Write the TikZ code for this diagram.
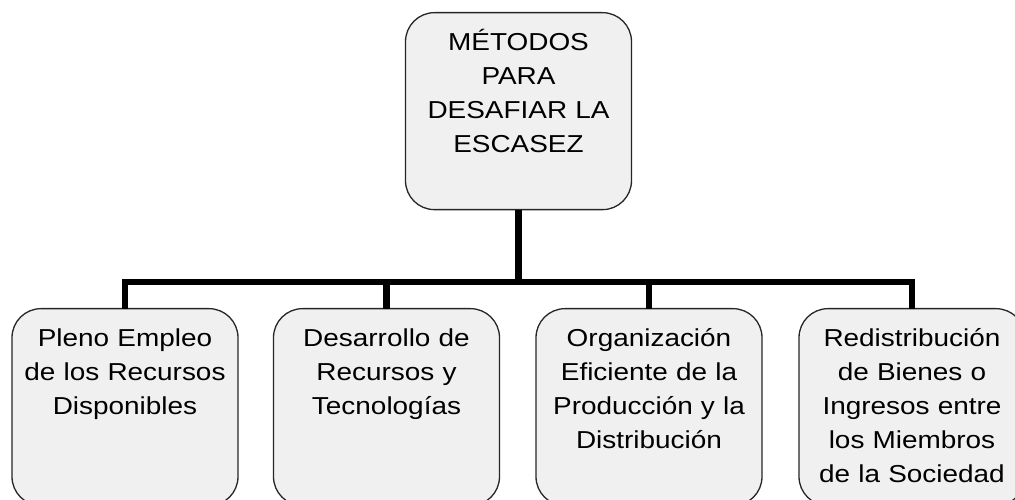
\documentclass[tikz,border=0pt]{standalone}
\usepackage{fontspec}
\setmainfont[FakeStretch=1.14]{Liberation Sans}
\begin{document}
\begin{tikzpicture}[x=1pt,y=1pt,
  box/.style={draw=black!85, line width=1.3pt, fill=black!6, rounded corners=29pt,
    inner xsep=0pt, inner ysep=0pt, text width=226pt, align=center,
    text height=38pt, text depth=159pt, anchor=north,
    font=\fontsize{24.5pt}{34pt}\selectfont},
  conn/.style={line width=6.5pt, draw=black, line join=miter},
  trunk/.style={line width=7.5pt, draw=black}]
\clip (0,0) rectangle (1015,500);
\fill[white] (0,0) rectangle (1015,500);
\node[box] (top) at (518.5,488) {MÉTODOS\\PARA\\DESAFIAR LA\\ESCASEZ};
\node[box] (b1) at (125,192) {Pleno Empleo\\de los Recursos\\Disponibles};
\node[box] (b2) at (386.5,192) {Desarrollo de\\Recursos y\\Tecnologías};
\node[box] (b3) at (649,192) {Organización\\Eficiente de la\\Producción y la\\Distribución};
\node[box] (b4) at (912,192) {Redistribución\\de Bienes o\\Ingresos entre\\los Miembros\\de la Sociedad};
\coordinate (hy) at (0,218);
\draw[trunk] ([yshift=0.6pt]top.south) -- (top.south |- hy);
\draw[conn] ([yshift=-0.6pt]b1.north) -- (b1.north |- hy) -- (b4.north |- hy) -- ([yshift=-0.6pt]b4.north);
\draw[conn] ([yshift=-0.6pt]b2.north) -- (b2.north |- hy);
\draw[conn] ([yshift=-0.6pt]b3.north) -- (b3.north |- hy);
\end{tikzpicture}
\end{document}
